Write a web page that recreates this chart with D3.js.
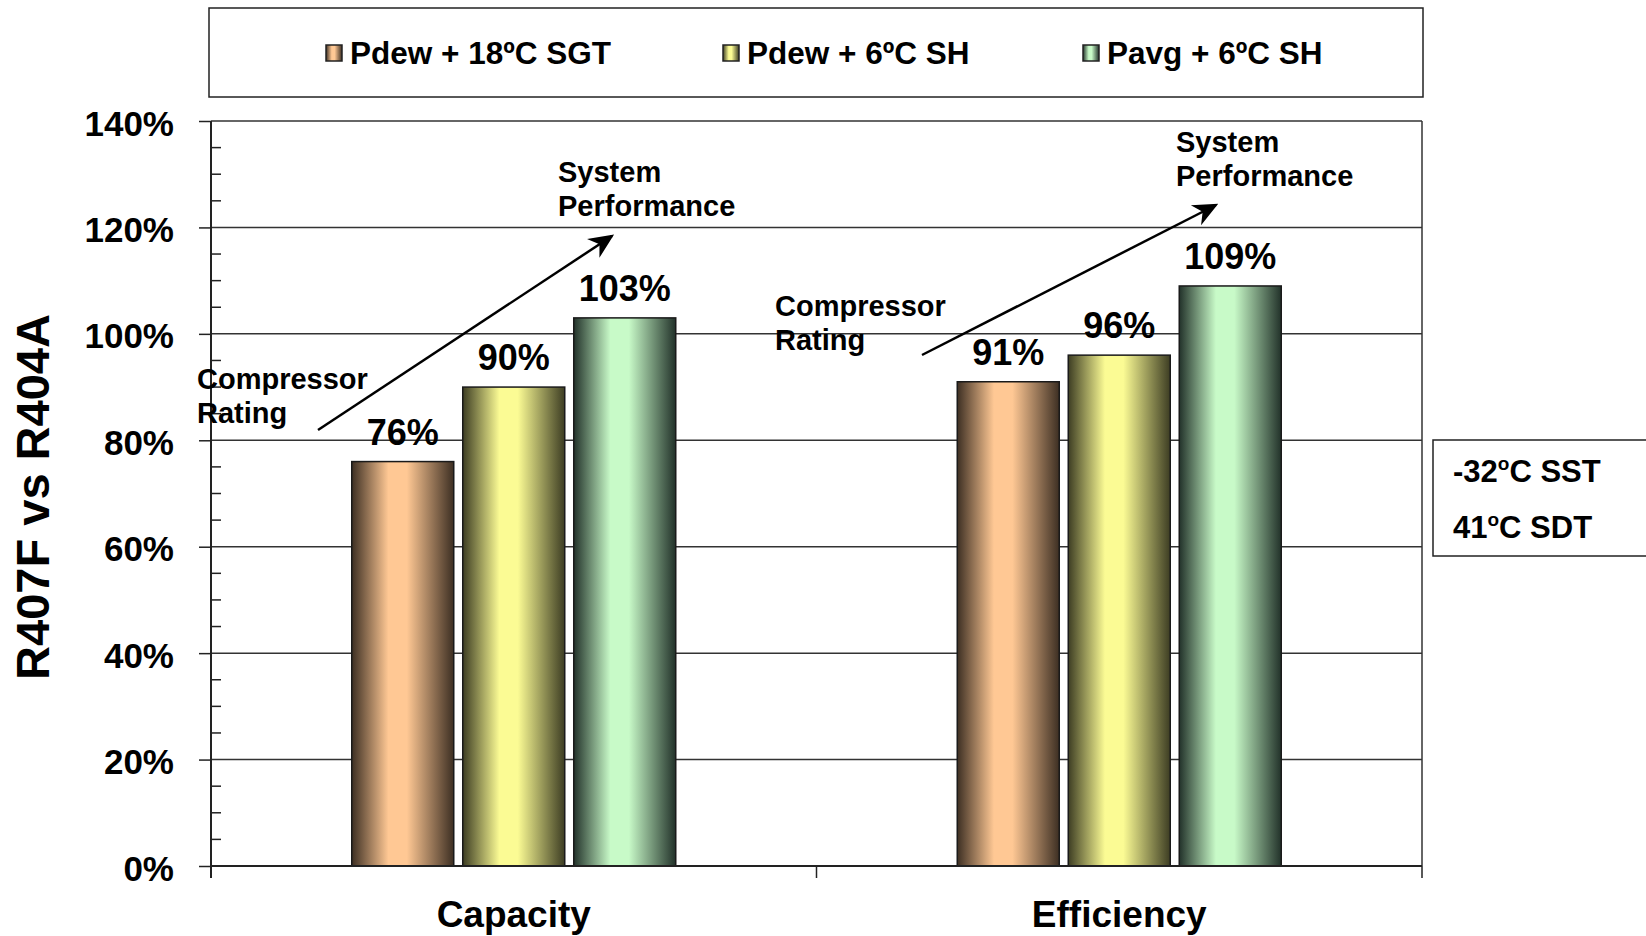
<!DOCTYPE html>
<html>
<head>
<meta charset="utf-8">
<script src="https://cdn.jsdelivr.net/npm/d3@7"></script>
<style>
  html, body { margin: 0; padding: 0; background: #fff; }
  svg { display: block; font-family: "Liberation Sans", Arial, sans-serif; font-weight: bold; }
</style>
</head>
<body>
<svg id="chart" width="1646" height="936"></svg>
<script>
// Chart data
const categories = ["Capacity", "Efficiency"];
const seriesNames = ["Pdew + 18ºC SGT", "Pdew + 6ºC SH", "Pavg + 6ºC SH"];
const pdew18SGT = [76, 91];
const pdew6SH = [90, 96];
const pavg6SH = [103, 109];
const yTickValues = [0, 20, 40, 60, 80, 100, 120, 140];
const yMinorValues = d3.range(0, 141, 5).filter(v => v % 20 !== 0);
const yTitle = "R407F vs R404A";
const conditionLines = [["-32", "o", "C SST"], ["41", "o", "C SDT"]];

const seriesValues = [pdew18SGT, pdew6SH, pavg6SH];
const seriesColors = [
  { light: "#ffc894", dark: "#3d2f23" },
  { light: "#fbfb94", dark: "#3d3d23" },
  { light: "#c8fac8", dark: "#22322a" }
];

const svg = d3.select("#chart");
const plot = { left: 211, right: 1422, top: 121, bottom: 866 };

// Gradients: dark edges, light centre
const defs = svg.append("defs");
seriesColors.forEach((c, i) => {
  const g = defs.append("linearGradient").attr("id", "grad" + i)
    .attr("x1", "0%").attr("x2", "100%").attr("y1", "0%").attr("y2", "0%");
  g.append("stop").attr("offset", "0%").attr("stop-color", c.dark);
  g.append("stop").attr("offset", "36%").attr("stop-color", c.light);
  g.append("stop").attr("offset", "54%").attr("stop-color", c.light);
  g.append("stop").attr("offset", "100%").attr("stop-color", c.dark);
});
defs.append("marker").attr("id", "arrowhead")
  .attr("viewBox", "0 0 20 20").attr("refX", 18).attr("refY", 10)
  .attr("markerWidth", 10).attr("markerHeight", 10)
  .attr("markerUnits", "strokeWidth").attr("orient", "auto")
  .append("path").attr("d", "M0,1 L20,10 L0,19 L6,10 Z").attr("fill", "#000");

// Scales
const y = d3.scaleLinear().domain([0, 140]).range([plot.bottom, plot.top]);
const x0 = d3.scaleBand().domain(categories).range([plot.left, plot.right]).padding(0);
const groupWidth = 324;
const x1 = d3.scaleBand().domain(seriesNames).range([0, groupWidth]).paddingInner(0.081).paddingOuter(0);
const groupOffset = (x0.bandwidth() - groupWidth) / 2;

// Plot frame and gridlines
svg.append("g").selectAll("line").data(yTickValues.filter(v => v > 0)).join("line")
  .attr("x1", plot.left).attr("x2", plot.right)
  .attr("y1", d => y(d)).attr("y2", d => y(d))
  .attr("stroke", "#333").attr("stroke-width", 1.5);
svg.append("line").attr("x1", plot.right).attr("x2", plot.right)
  .attr("y1", plot.top).attr("y2", plot.bottom)
  .attr("stroke", "#333").attr("stroke-width", 1.5);

// Y axis
const yAxis = d3.axisLeft(y).tickValues(yTickValues).tickFormat(d => d + "%").tickSize(12).tickPadding(25);
const yAxisG = svg.append("g").attr("transform", `translate(${plot.left},0)`).call(yAxis);
yAxisG.select(".domain").remove();
yAxisG.selectAll(".tick line").attr("stroke", "#222").attr("stroke-width", 1.5);
yAxisG.selectAll(".tick text").attr("font-size", 35).attr("font-weight", "bold")
  .attr("font-family", "Liberation Sans, Arial, sans-serif").attr("fill", "#000")
  .attr("dy", "0.4em");
svg.append("g").selectAll("line").data(yMinorValues).join("line")
  .attr("x1", plot.left).attr("x2", plot.left + 10)
  .attr("y1", d => y(d)).attr("y2", d => y(d))
  .attr("stroke", "#222").attr("stroke-width", 1.5);
svg.append("line").attr("x1", plot.left).attr("x2", plot.left)
  .attr("y1", plot.top).attr("y2", plot.bottom + 12)
  .attr("stroke", "#222").attr("stroke-width", 2);

svg.append("text")
  .attr("transform", `translate(49,${(317 + 677) / 2}) rotate(-90)`)
  .attr("text-anchor", "middle").attr("font-size", 47).attr("fill", "#000")
  .text(yTitle);

// Bars
const groups = svg.append("g").selectAll("g").data(categories).join("g")
  .attr("transform", d => `translate(${x0(d) + groupOffset},0)`);
groups.selectAll("rect")
  .data((c, ci) => seriesNames.map((s, si) => ({ s, si, v: seriesValues[si][ci] })))
  .join("rect")
  .attr("x", d => x1(d.s)).attr("width", x1.bandwidth())
  .attr("y", d => y(d.v)).attr("height", d => y(0) - y(d.v))
  .attr("fill", d => `url(#grad${d.si})`)
  .attr("stroke", "#1a1a1a").attr("stroke-width", 1.5);
groups.selectAll("text.value")
  .data((c, ci) => seriesNames.map((s, si) => ({ s, si, v: seriesValues[si][ci] })))
  .join("text").attr("class", "value")
  .attr("x", d => x1(d.s) + x1.bandwidth() / 2).attr("y", d => y(d.v) - 17)
  .attr("text-anchor", "middle").attr("font-size", 36).attr("fill", "#000")
  .text(d => d.v + "%");

// X axis
const xAxisG = svg.append("g");
xAxisG.append("line").attr("x1", plot.left).attr("x2", plot.right)
  .attr("y1", plot.bottom).attr("y2", plot.bottom)
  .attr("stroke", "#222").attr("stroke-width", 2);
const boundaries = categories.map(c => x0(c)).concat([plot.right]);
xAxisG.selectAll("line.tick").data(boundaries).join("line").attr("class", "tick")
  .attr("x1", d => d).attr("x2", d => d)
  .attr("y1", plot.bottom).attr("y2", plot.bottom + 12)
  .attr("stroke", "#222").attr("stroke-width", 1.5);
xAxisG.selectAll("text").data(categories).join("text")
  .attr("x", d => x0(d) + x0.bandwidth() / 2).attr("y", 927)
  .attr("text-anchor", "middle").attr("font-size", 37).attr("fill", "#000")
  .text(d => d);

// Annotations
function label(x, yBase, lines) {
  const t = svg.append("text").attr("font-size", 29).attr("fill", "#000");
  lines.forEach((l, i) => t.append("tspan").attr("x", x).attr("y", yBase + i * 34).text(l));
}
label(197, 389, ["Compressor", "Rating"]);
label(558, 182, ["System", "Performance"]);
label(775, 316, ["Compressor", "Rating"]);
label(1176, 152, ["System", "Performance"]);

function arrow(xa, ya, xb, yb) {
  svg.append("line").attr("x1", xa).attr("y1", ya).attr("x2", xb).attr("y2", yb)
    .attr("stroke", "#000").attr("stroke-width", 2.5)
    .attr("marker-end", "url(#arrowhead)");
}
arrow(318, 430, 612, 236);
arrow(922, 355, 1216, 205);

// Legend
const legend = svg.append("g");
legend.append("rect").attr("x", 209).attr("y", 8).attr("width", 1214).attr("height", 89)
  .attr("fill", "#fff").attr("stroke", "#222").attr("stroke-width", 1.5);
const legendX = [326, 723, 1083];
const items = legend.selectAll("g").data(seriesNames).join("g")
  .attr("transform", (d, i) => `translate(${legendX[i]},45)`);
items.append("rect").attr("width", 16).attr("height", 16)
  .attr("fill", (d, i) => `url(#grad${i})`).attr("stroke", "#222").attr("stroke-width", 1.5);
items.append("text").attr("x", 24).attr("y", 19).attr("font-size", 31.5).attr("fill", "#000")
  .text(d => d);

// Operating conditions box
svg.append("rect").attr("x", 1433).attr("y", 440).attr("width", 230).attr("height", 116)
  .attr("fill", "#fff").attr("stroke", "#222").attr("stroke-width", 1.5);
conditionLines.forEach((parts, i) => {
  const t = svg.append("text").attr("x", 1453).attr("y", 482 + i * 56)
    .attr("font-size", 31).attr("fill", "#000");
  t.append("tspan").text(parts[0]);
  t.append("tspan").attr("font-size", 19).attr("dy", -12).text(parts[1]);
  t.append("tspan").attr("dy", 12).text(parts[2]);
});
</script>
</body>
</html>
